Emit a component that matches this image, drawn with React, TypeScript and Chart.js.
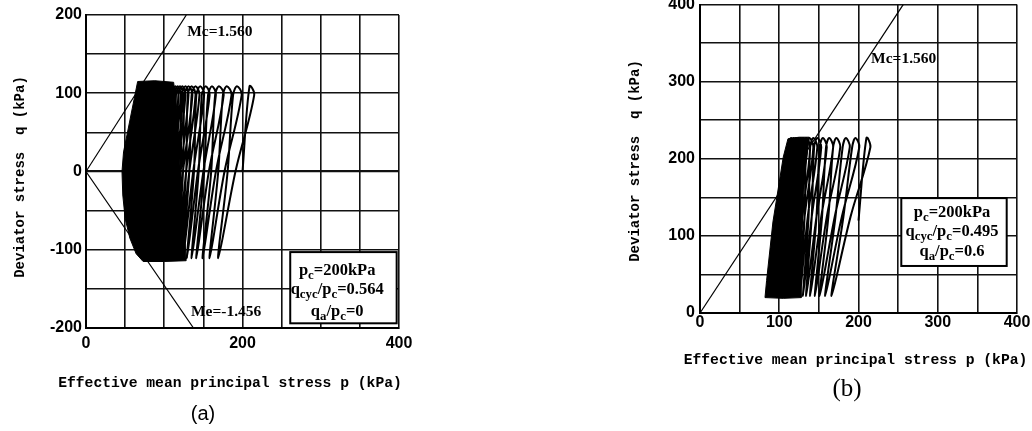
import React, { useEffect, useRef } from "react";
import { Chart, registerables } from "chart.js";

Chart.register(...registerables);

// ---------------- Panel (a): q_a/p_c = 0 ----------------
const aStart = [200, 0];
const aQPeak = 109;
const aQShoulder = 98;
const aQMid = 0;
const aQTrough = -111;
const aPeakP = [209, 193, 180, 170, 161, 153, 146, 140, 135, 131, 127, 123, 120, 117, 114, 111];
const aDownShoulderP = [215, 199, 186, 176, 166, 158, 151, 145, 140, 136, 131, 127, 124, 121, 118, 115];
const aDownMidP = [191, 177, 166, 157, 150, 143, 137, 132, 128, 124, 121, 117, 115, 112, 110, 107];
const aTroughP = [169, 158, 149, 141, 135, 129, 124, 120, 117, 114, 111, 108, 106, 104, 102, 100];
const aUpMidP = [181, 169, 160, 151, 144, 138, 132, 128, 124, 121, 117, 114, 111, 109, 106];
const aUpShoulderP = [188, 175, 165, 156, 148, 141, 135, 130, 126, 122, 118, 115, 112, 109, 106];
const aDenseP = [66, 88, 112, 116, 119, 122, 126, 128, 100, 73, 64, 56, 50, 47, 46, 48, 53, 59];
const aDenseQ = [115, 116, 114, 80, 30, -30, -80, -114, -115, -115, -105, -85, -60, -30, 0, 25, 50, 80];
const aMc = 1.56;
const aMe = -1.456;
const aXTickLabels = [0, 200, 400];
const aYTickLabels = [-200, -100, 0, 100, 200];
const aBoxText = ["p_{c}=200kPa", "q_{cyc}/p_{c}=0.564", "q_{a}/p_{c}=0"];

// ---------------- Panel (b): q_a/p_c = 0.6 ----------------
const bStart = [200, 120];
const bQPeak = 227;
const bQShoulder = 215;
const bQMid = 125;
const bQTrough = 22;
const bPeakP = [210, 196, 184, 172, 163, 155, 148, 143, 138, 134, 130, 127, 124, 121, 118, 115];
const bDownShoulderP = [215, 201, 189, 177, 168, 160, 153, 148, 143, 139, 135, 132, 129, 126, 123, 120];
const bDownMidP = [190, 179, 170, 160, 153, 147, 141, 136, 132, 129, 125, 122, 119, 116, 113, 110];
const bTroughP = [166, 158, 151, 145, 139, 134, 130, 126, 122, 119, 116, 113, 110, 107, 104, 101];
const bUpMidP = [181, 171, 162, 154, 147, 141, 137, 132, 128, 125, 122, 119, 116, 113, 110];
const bUpShoulderP = [192, 180, 168, 159, 151, 144, 139, 134, 130, 126, 123, 120, 117, 114, 111];
const bDenseP = [111, 125, 138, 132, 129, 127, 128, 105, 82, 84, 92, 105];
const bDenseQ = [226, 228, 228, 180, 110, 60, 20, 19, 20, 42, 118, 202];
const bMc = 1.56;
const bXTickLabels = [0, 100, 200, 300, 400];
const bYTickLabels = [0, 100, 200, 300, 400];
const bBoxText = ["p_{c}=200kPa", "q_{cyc}/p_{c}=0.495", "q_{a}/p_{c}=0.6"];

const X_TITLE = "Effective mean principal stress p (kPa)";
const Y_TITLE = "Deviator stress  q (kPa)";

type Pt = { x: number; y: number };

function loopPath(
  start: number[], qPk: number, qSh: number, qMid: number, qTr: number,
  peak: number[], downSh: number[], downMid: number[], trough: number[], upMid: number[], upSh: number[]
): Pt[] {
  const pts: Pt[] = [{ x: start[0], y: start[1] }];
  for (let i = 0; i < peak.length; i++) {
    pts.push({ x: peak[i], y: qPk });
    pts.push({ x: downSh[i], y: qSh });
    pts.push({ x: downMid[i], y: qMid });
    pts.push({ x: trough[i], y: qTr });
    if (i < upMid.length) {
      pts.push({ x: upMid[i], y: qMid });
      pts.push({ x: upSh[i], y: qSh });
    }
  }
  return pts;
}

function zipPts(ps: number[], qs: number[]): Pt[] {
  const out = ps.map((p, i) => ({ x: p, y: qs[i] }));
  out.push({ x: ps[0], y: qs[0] });
  return out;
}

function drawRuns(ctx: CanvasRenderingContext2D, cx: number, cy: number, text: string, size: number, family: string, weight: string, subRatio: number) {
  const parts: { t: string; sub: boolean }[] = [];
  const re = /_\{([^}]*)\}/g;
  let last = 0;
  let m: RegExpExecArray | null;
  while ((m = re.exec(text))) {
    if (m.index > last) parts.push({ t: text.slice(last, m.index), sub: false });
    parts.push({ t: m[1], sub: true });
    last = m.index + m[0].length;
  }
  if (last < text.length) parts.push({ t: text.slice(last), sub: false });
  const subSize = size * subRatio;
  let total = 0;
  for (const p of parts) {
    ctx.font = `${weight} ${p.sub ? subSize : size}px ${family}`;
    total += ctx.measureText(p.t).width;
  }
  let x = cx - total / 2;
  ctx.textAlign = "left";
  ctx.textBaseline = "middle";
  for (const p of parts) {
    ctx.font = `${weight} ${p.sub ? subSize : size}px ${family}`;
    ctx.fillText(p.t, x, p.sub ? cy + size * 0.3 : cy);
    x += ctx.measureText(p.t).width;
  }
}

type Note = { p: number; q: number; text: string };
type Box = { p0: number; p1: number; q0: number; q1: number; lines: string[]; lineQ: number[]; cp: number };

function notesPlugin(notes: Note[], box: Box, xTitlePos: number[], yTitlePos: number[]) {
  return {
    id: "notes",
    afterDatasetsDraw(chart: any) {
      const { ctx, scales } = chart;
      const xs = scales.x;
      const ys = scales.y;
      ctx.save();
      ctx.fillStyle = "#000";
      for (const n of notes) {
        drawRuns(ctx, xs.getPixelForValue(n.p), ys.getPixelForValue(n.q), n.text, 15.5, "'Liberation Serif'", "bold", 0.6);
      }
      const x0 = xs.getPixelForValue(box.p0);
      const x1 = xs.getPixelForValue(box.p1);
      const y0 = ys.getPixelForValue(box.q0);
      const y1 = ys.getPixelForValue(box.q1);
      ctx.fillStyle = "#fff";
      ctx.fillRect(x0, y0, x1 - x0, y1 - y0);
      ctx.strokeStyle = "#000";
      ctx.lineWidth = 2;
      ctx.strokeRect(x0, y0, x1 - x0, y1 - y0);
      ctx.fillStyle = "#000";
      box.lines.forEach((t, i) => {
        drawRuns(ctx, xs.getPixelForValue(box.cp), ys.getPixelForValue(box.lineQ[i]), t, 16.5, "'Liberation Serif'", "bold", 0.78);
      });
      ctx.restore();
    },
    afterDraw(chart: any) {
      const { ctx } = chart;
      ctx.save();
      ctx.fillStyle = "#000";
      ctx.textAlign = "center";
      ctx.textBaseline = "middle";
      ctx.font = "bold 14.7px 'Liberation Mono', 'DejaVu Sans Mono', monospace";
      ctx.fillText(X_TITLE, xTitlePos[0], xTitlePos[1]);
      ctx.translate(yTitlePos[0], yTitlePos[1]);
      ctx.rotate(-Math.PI / 2);
      ctx.font = "bold 14px 'Liberation Mono', 'DejaVu Sans Mono', monospace";
      ctx.fillText(Y_TITLE, 0, 0);
      ctx.restore();
    },
  };
}

type PanelCfg = {
  loops: Pt[];
  dense: Pt[];
  lines: Pt[][];
  yMin: number;
  yMax: number;
  xLabels: number[];
  yLabels: number[];
  padTop: number;
  padRight: number;
  yWidth: number;
  xHeight: number;
  xTickPad: number;
  yTickPad: number;
  xTitlePos: number[];
  yTitlePos: number[];
  notes: Note[];
  box: Box;
};

function makeConfig(c: PanelCfg): any {
  const tickFont = { family: "'Liberation Sans', Arial, sans-serif", size: 16, weight: "bold" as const };
  const datasets: any[] = [
    {
      data: c.dense,
      showLine: true,
      fill: "shape",
      backgroundColor: "#000",
      borderColor: "#000",
      borderWidth: 1,
      pointRadius: 0,
      tension: 0,
    },
    {
      data: c.loops,
      showLine: true,
      fill: false,
      borderColor: "#000",
      borderWidth: 2,
      pointRadius: 0,
      tension: 0.35,
    },
    ...c.lines.map((l) => ({
      data: l,
      showLine: true,
      fill: false,
      borderColor: "#000",
      borderWidth: 1.2,
      pointRadius: 0,
      tension: 0,
    })),
  ];
  return {
    type: "scatter",
    data: { datasets },
    plugins: [notesPlugin(c.notes, c.box, c.xTitlePos, c.yTitlePos)],
    options: {
      animation: false,
      responsive: false,
      maintainAspectRatio: false,
      events: [],
      layout: { padding: { top: c.padTop, right: c.padRight, left: 0, bottom: 0 } },
      plugins: { legend: { display: false }, tooltip: { enabled: false } },
      scales: {
        x: {
          type: "linear",
          min: 0,
          max: 400,
          afterFit: (s: any) => { s.height = c.xHeight; },
          ticks: {
            stepSize: 50,
            autoSkip: false,
            maxRotation: 0,
            padding: c.xTickPad,
            color: "#000",
            font: tickFont,
            callback: (v: any) => (c.xLabels.includes(Number(v)) ? String(v) : ""),
          },
          grid: { color: "#111", lineWidth: 1.6, drawTicks: false },
          border: { color: "#000", width: 2 },
          title: { display: false },
        },
        y: {
          type: "linear",
          min: c.yMin,
          max: c.yMax,
          afterFit: (s: any) => { s.width = c.yWidth; },
          ticks: {
            stepSize: 50,
            autoSkip: false,
            padding: c.yTickPad,
            color: "#000",
            font: tickFont,
            callback: (v: any) => (c.yLabels.includes(Number(v)) ? String(v) : ""),
          },
          grid: {
            color: "#111",
            lineWidth: (ctx: any) => (ctx.tick && ctx.tick.value === 0 && c.yMin < 0 ? 2.3 : 1.6),
            drawTicks: false,
          },
          border: { color: "#000", width: 2 },
          title: { display: false },
        },
      },
    },
  };
}

const cfgA: PanelCfg = {
  loops: loopPath(aStart, aQPeak, aQShoulder, aQMid, aQTrough, aPeakP, aDownShoulderP, aDownMidP, aTroughP, aUpMidP, aUpShoulderP),
  dense: zipPts(aDenseP, aDenseQ),
  lines: [
    [{ x: 0, y: 0 }, { x: 200 / aMc, y: 200 }],
    [{ x: 0, y: 0 }, { x: -200 / aMe, y: -200 }],
  ],
  yMin: -200,
  yMax: 200,
  xLabels: aXTickLabels,
  yLabels: aYTickLabels,
  padTop: 15,
  padRight: 21,
  yWidth: 86,
  xHeight: 103,
  xTickPad: 6,
  yTickPad: 4,
  xTitlePos: [230, 383],
  yTitlePos: [20, 177],
  notes: [
    { p: 171, q: 178, text: "Mc=1.560" },
    { p: 179, q: -180, text: "Me=-1.456" },
  ],
  box: { p0: 261, p1: 397, q0: -103, q1: -194, lines: aBoxText, lineQ: [-127, -151.5, -179.6], cp: 321 },
};

const cfgB: PanelCfg = {
  loops: loopPath(bStart, bQPeak, bQShoulder, bQMid, bQTrough, bPeakP, bDownShoulderP, bDownMidP, bTroughP, bUpMidP, bUpShoulderP),
  dense: zipPts(bDenseP, bDenseQ),
  lines: [[{ x: 0, y: 0 }, { x: 400 / bMc, y: 400 }]],
  yMin: 0,
  yMax: 400,
  xLabels: bXTickLabels,
  yLabels: bYTickLabels,
  padTop: 7,
  padRight: 15,
  yWidth: 85,
  xHeight: 118,
  xTickPad: 0,
  yTickPad: 5,
  xTitlePos: [240.5, 370],
  yTitlePos: [20, 171],
  notes: [{ p: 257, q: 330, text: "Mc=1.560" }],
  box: { p0: 254, p1: 387, q0: 149, q1: 61, lines: bBoxText, lineQ: [130, 105, 80], cp: 318 },
};

function Panel({ cfg, left, top, width, height }: { cfg: PanelCfg; left: number; top: number; width: number; height: number }) {
  const ref = useRef<HTMLCanvasElement | null>(null);
  useEffect(() => {
    if (!ref.current) return;
    const chart = new Chart(ref.current, makeConfig(cfg));
    return () => chart.destroy();
  }, [cfg]);
  return (
    <canvas
      ref={ref}
      width={width}
      height={height}
      style={{ position: "absolute", left, top, width, height }}
    />
  );
}

export default function App() {
  useEffect(() => {
    document.body.style.margin = "0";
    document.body.style.background = "#fff";
  }, []);
  return (
    <div style={{ position: "relative", width: 1032, height: 431, overflow: "hidden", background: "#fff" }}>
      <Panel cfg={cfgA} left={0} top={0} width={420} height={431} />
      <Panel cfg={cfgB} left={615} top={-10} width={417} height={441} />
      <div
        style={{
          position: "absolute", left: 183, top: 400, width: 40, textAlign: "center",
          font: "20px 'Liberation Sans', Arial, sans-serif", color: "#000", lineHeight: "26px",
        }}
      >
        (a)
      </div>
      <div
        style={{
          position: "absolute", left: 822, top: 373, width: 50, textAlign: "center",
          font: "25px 'Liberation Serif', serif", color: "#000", lineHeight: "30px",
        }}
      >
        (b)
      </div>
    </div>
  );
}
